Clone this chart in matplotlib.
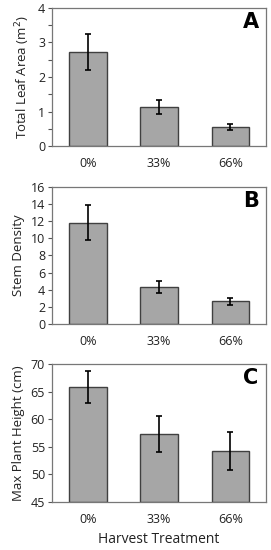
import matplotlib
matplotlib.use("Agg")
import matplotlib.pyplot as plt
from matplotlib.ticker import MultipleLocator

categories = ["0%", "33%", "66%"]
leaf_area = [2.73, 1.12, 0.55]
leaf_err = [0.52, 0.20, 0.09]
stem_density = [11.85, 4.35, 2.65]
stem_err = [2.0, 0.68, 0.40]
height = [65.9, 57.3, 54.2]
height_err = [2.9, 3.3, 3.45]

plt.rcParams['font.family'] = ['Open Sans', 'DejaVu Sans']

fig = plt.figure(figsize=(2.71, 5.5), dpi=100)
panels = [
    (leaf_area, leaf_err, "Total Leaf Area (m$^2$)", (0, 4), 1, 0.5, "A", [0.192, 0.7345, 0.790, 0.251]),
    (stem_density, stem_err, "Stem Density", (0, 16), 2, None, "B", [0.192, 0.411, 0.790, 0.249]),
    (height, height_err, "Max Plant Height (cm)", (45, 70), 5, None, "C", [0.192, 0.0873, 0.790, 0.251]),
]
x = list(range(len(categories)))
for vals, errs, ylab, ylim, major, minor, letter, pos in panels:
    ax = fig.add_axes(pos)
    base = ylim[0]
    ax.bar(x, [v - base for v in vals], bottom=base, width=0.53, color="#a6a6a6",
           edgecolor="#404040", linewidth=1.0, zorder=2)
    ax.errorbar(x, vals, yerr=errs, fmt="none", ecolor="black", elinewidth=1.2,
                capsize=2.0, capthick=1.2, zorder=3)
    ax.set_xlim(-0.5, 2.5)
    ax.set_ylim(*ylim)
    ax.yaxis.set_major_locator(MultipleLocator(major))
    if minor:
        ax.yaxis.set_minor_locator(MultipleLocator(minor))
    ax.set_xticks(x)
    ax.set_xticklabels(categories, fontsize=9, color="#222222")
    ax.tick_params(axis="x", length=0, pad=8)
    ax.tick_params(axis="y", which="both", direction="out", length=3, width=0.8,
                   color="#555555", labelsize=9, labelcolor="#222222", pad=2)
    for sp in ax.spines.values():
        sp.set_color("#777777")
        sp.set_linewidth(0.9)
    ax.set_ylabel(ylab, fontsize=9.5, color="#222222", labelpad=4)
    ax.text(0.965, 0.9, letter, transform=ax.transAxes, ha="right", va="center",
            fontsize=15, fontweight="heavy", family=["DejaVu Sans"], color="black")
    if letter == "C":
        ax.set_xlabel("Harvest Treatment", fontsize=10, color="#222222", labelpad=4)

fig.savefig("out.png", dpi=100)
